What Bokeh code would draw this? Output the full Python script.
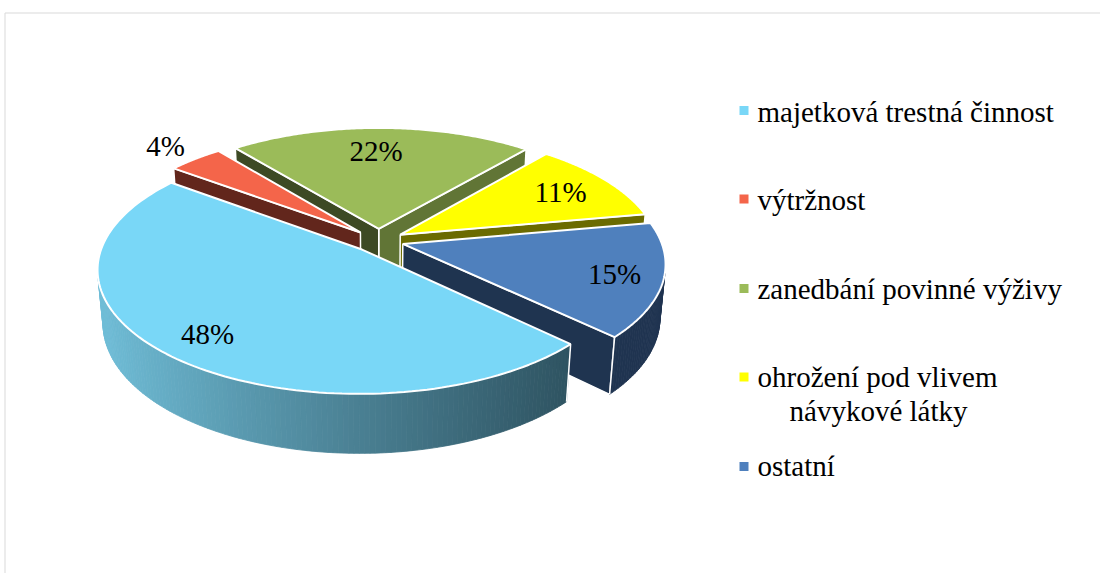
import numpy as np
from bokeh.plotting import figure
from bokeh.models import Range1d
from bokeh.embed import file_html
from bokeh.resources import INLINE
from bokeh.core.properties import value

# ---------------- data ----------------
categories = ["majetková trestná činnost", "výtržnost", "zanedbání povinné výživy",
              "ohrožení pod vlivem návykové látky", "ostatní"]
values = [48, 4, 22, 11, 15]
legend_lines = [["majetková trestná činnost"], ["výtržnost"], ["zanedbání povinné výživy"],
                ["ohrožení pod vlivem", "návykové látky"], ["ostatní"]]
top_colors = ["#79D7F7", "#F4654A", "#9BBB59", "#FFFF00", "#4F80BD"]
wall_a0_colors = ["#2F5563", "#62261C", "#617536", "#6B6B00", "#1F3450"]
wall_a1_colors = ["#2F5563", "#62261C", "#3D4A24", "#6B6B00", "#1F3450"]
outer_colors = [None, "#62261C", "#3D4A24", "#6B6B00", "#1F3450"]
label_radius = [0.82, 1.2, 0.75, 0.77, 0.82]
label_angle_nudge = [0.0, 0.0, 1.5, 0.0, 0.0]

FONT = value("Liberation Serif")
FSIZE = "29px"

# ---------------- figure ----------------
W, H = 1100, 573
p = figure(width=W, height=H, x_range=Range1d(0, W), y_range=Range1d(H, 0),
           output_backend="svg", toolbar_location=None, min_border=0,
           x_axis_location=None, y_axis_location=None)
p.grid.visible = False
p.outline_line_color = None
p.background_fill_color = "white"
p.border_fill_color = "white"

# chart frame border (top and left visible)
p.line(x=[4.5, 4.5, W], y=[H, 12.5, 12.5], line_color="#D9D9D9", line_width=1)

# ---------------- 3D projection ----------------
cx, cy = 378.0, 240.0
Kx, Ky = 258.0, 254.6
th = np.radians(28.0)
sin_t, cos_t = np.sin(th), np.cos(th)
pp = 0.171
hh = 0.24
dd = 0.098
start = -43.8
cam = np.array([0.0, -cos_t / pp, sin_t / pp])


def proj(X, Y, Z):
    X = np.asarray(X, float); Y = np.asarray(Y, float); Z = np.asarray(Z, float)
    depth = Y * cos_t - Z * sin_t
    s = 1.0 / (1.0 + pp * depth)
    up = Y * sin_t + Z * cos_t
    return cx + Kx * s * X, cy - Ky * s * up


def visible(normal, point):
    return float(np.dot(normal, cam - point)) > 0


def lerp_col(c1, c2, t):
    t = min(max(t, 0.0), 1.0)
    r = [int(round(a + (b - a) * t)) for a, b in zip(c1, c2)]
    return "#%02X%02X%02X" % tuple(r)


slices = []
cum = 0.0
for i, v in enumerate(values):
    a1 = start - 360.0 * cum / 100.0
    a0 = a1 - 360.0 * v / 100.0
    cum += v
    mid = 0.5 * (a0 + a1)
    m = np.radians(mid)
    slices.append(dict(i=i, a0=np.radians(a0), a1=np.radians(a1), mid=m,
                       ccx=dd * np.cos(m), ccy=dd * np.sin(m)))

order = sorted(slices, key=lambda s: -np.sin(s["mid"]))

# ---------------- walls ----------------
for sl in order:
    i = sl["i"]; a0 = sl["a0"]; a1 = sl["a1"]; ccx = sl["ccx"]; ccy = sl["ccy"]
    for a, nrm, col in ((a0, np.array([np.sin(a0), -np.cos(a0), 0.0]), wall_a0_colors[i]),
                        (a1, np.array([-np.sin(a1), np.cos(a1), 0.0]), wall_a1_colors[i])):
        pt = np.array([ccx + 0.5 * np.cos(a), ccy + 0.5 * np.sin(a), -hh / 2])
        if visible(nrm, pt):
            X = [ccx, ccx + np.cos(a), ccx + np.cos(a), ccx]
            Y = [ccy, ccy + np.sin(a), ccy + np.sin(a), ccy]
            Z = [0, 0, -hh, -hh]
            xs, ys = proj(X, Y, Z)
            p.patch([float(v) for v in xs], [float(v) for v in ys], fill_color=col,
                    line_color="white", line_width=1.5)
    n = max(int(np.degrees(a1 - a0) / 1.0), 4)
    angs = np.linspace(a0, a1, n + 1)
    sx, sy, sc = [], [], []
    for j in range(n):
        b0, b1 = angs[j], angs[j + 1]
        am = 0.5 * (b0 + b1)
        nrm = np.array([np.cos(am), np.sin(am), 0.0])
        pt = np.array([ccx + np.cos(am), ccy + np.sin(am), -hh / 2])
        if not visible(nrm, pt):
            continue
        X = [ccx + np.cos(b0), ccx + np.cos(b1), ccx + np.cos(b1), ccx + np.cos(b0)]
        Y = [ccy + np.sin(b0), ccy + np.sin(b1), ccy + np.sin(b1), ccy + np.sin(b0)]
        Z = [0, 0, -hh, -hh]
        xs, ys = proj(X, Y, Z)
        if outer_colors[i] is None:
            t = (np.mean(xs) - 100.0) / (566.0 - 100.0)
            col = lerp_col((112, 190, 216), (47, 84, 98), t ** 0.9)
        else:
            col = outer_colors[i]
        sx.append([float(v) for v in xs]); sy.append([float(v) for v in ys]); sc.append(col)
    if sx:
        p.patches(sx, sy, fill_color=sc, line_color=sc, line_width=0.8)
        for a in (a0, a1):
            nrm = np.array([np.cos(a), np.sin(a), 0.0])
            pt = np.array([ccx + np.cos(a), ccy + np.sin(a), -hh / 2])
            if visible(nrm, pt):
                xs, ys = proj([ccx + np.cos(a)] * 2, [ccy + np.sin(a)] * 2, [0, -hh])
                p.line([float(v) for v in xs], [float(v) for v in ys],
                       line_color="white", line_width=1.5)

# ---------------- top faces ----------------
for sl in order:
    i = sl["i"]; a0 = sl["a0"]; a1 = sl["a1"]; ccx = sl["ccx"]; ccy = sl["ccy"]
    angs = np.linspace(a0, a1, 120)
    X = np.concatenate([[ccx], ccx + np.cos(angs)])
    Y = np.concatenate([[ccy], ccy + np.sin(angs)])
    Z = np.zeros_like(X)
    xs, ys = proj(X, Y, Z)
    p.patch([float(v) for v in xs], [float(v) for v in ys], fill_color=top_colors[i],
            line_color="white", line_width=2)

# ---------------- data labels ----------------
lx, ly, lt = [], [], []
for sl in slices:
    i = sl["i"]; r = label_radius[i]
    ang = sl["mid"] + np.radians(label_angle_nudge[i])
    X = sl["ccx"] + r * np.cos(ang)
    Y = sl["ccy"] + r * np.sin(ang)
    x, y = proj([X], [Y], [0.0])
    lx.append(float(x[0])); ly.append(float(y[0])); lt.append("%d%%" % values[i])
p.text(x=lx, y=ly, text=lt, text_font=FONT, text_font_size=FSIZE,
       text_align="center", text_baseline="alphabetic", text_color="black")

# ---------------- legend ----------------
marker_y = [110, 198.5, 288, 376.5, 466]
p.rect(x=[743.5] * len(values), y=marker_y, width=9, height=9,
       fill_color=top_colors, line_color=None)
base_y = [111.0, 199.5, 288.5, 376.0, 465.0]
tx, ty, tt = [], [], []
for i, lines in enumerate(legend_lines):
    tx.append(757.0); ty.append(base_y[i]); tt.append(lines[0])
    for k, ln in enumerate(lines[1:]):
        p.text(x=[878.0], y=[base_y[i] + 34.0 * (k + 1)], text=[ln], text_font=FONT,
               text_font_size=FSIZE, text_align="center", text_baseline="alphabetic",
               text_color="black")
p.text(x=tx, y=ty, text=tt, text_font=FONT, text_font_size=FSIZE,
       text_align="left", text_baseline="alphabetic", text_color="black")

open("out.html", "w").write(file_html(p, INLINE))
